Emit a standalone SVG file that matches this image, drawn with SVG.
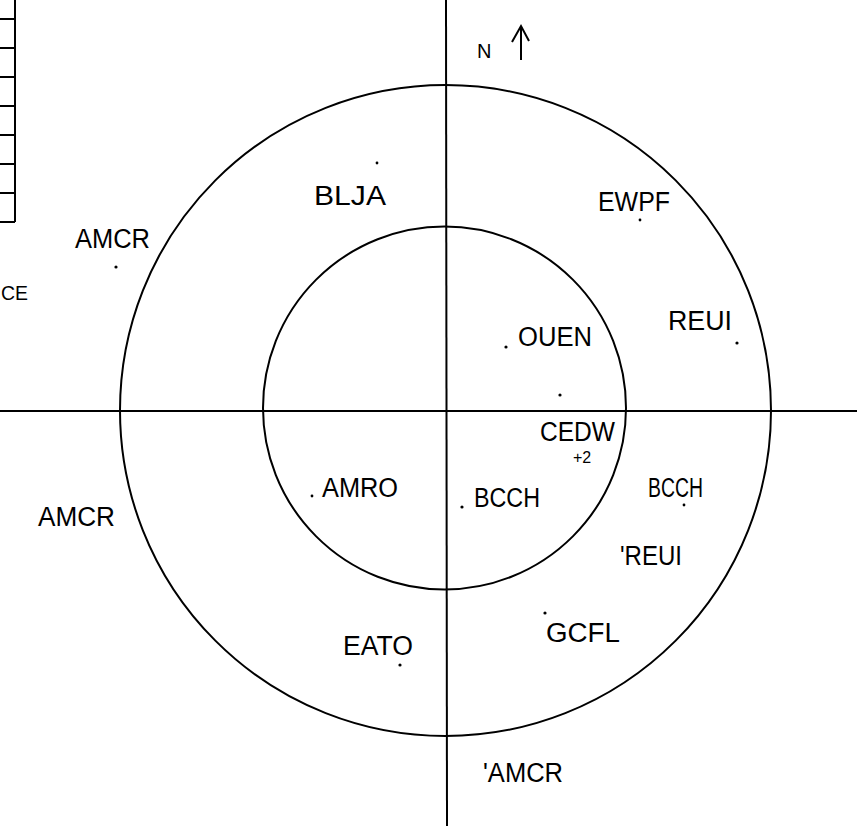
<svg xmlns="http://www.w3.org/2000/svg" width="863" height="826" viewBox="0 0 863 826">
<style>
.ln{stroke:#000;stroke-width:2;fill:none}
.t{font-family:"Liberation Sans",Arial,sans-serif;font-size:27px;fill:#000}
.dot{fill:#000}
</style>
<rect width="863" height="826" fill="#fff"/>
<g id="table">
<path class="ln" d="M15 0V222M0 19H15M0 48H15M0 77H15M0 106H15M0 135H15M0 164H15M0 193H15M0 222H15"/>
</g>
<g id="connectors">
<line class="ln" x1="446" y1="0" x2="447" y2="826"/>
<line class="ln" x1="0" y1="411" x2="857" y2="411"/>
</g>
<g id="outer-circle"><circle class="ln" cx="445.5" cy="410.5" r="325.5"/></g>
<g id="inner-circle"><circle class="ln" cx="444.5" cy="408" r="181.5"/></g>
<g id="north">
<text class="t" x="477" y="58" style="font-size:20px">N</text>
<path class="ln" d="M521 60L521 28M512 42L521 26L529 41"/>
</g>
<g id="labels">
<text class="t" x="75" y="248" textLength="75" lengthAdjust="spacingAndGlyphs">AMCR</text>
<text class="t" x="1" y="300" textLength="27" lengthAdjust="spacingAndGlyphs" style="font-size:20px">CE</text>
<text class="t" x="314" y="205" textLength="72" lengthAdjust="spacingAndGlyphs">BLJA</text>
<text class="t" x="598" y="211" textLength="72" lengthAdjust="spacingAndGlyphs">EWPF</text>
<text class="t" x="518" y="346" textLength="74" lengthAdjust="spacingAndGlyphs">OUEN</text>
<text class="t" x="668" y="330" textLength="64" lengthAdjust="spacingAndGlyphs">REUI</text>
<text class="t" x="540" y="441" textLength="75" lengthAdjust="spacingAndGlyphs">CEDW</text>
<text class="t" x="573" y="463" style="font-size:16px">+2</text>
<text class="t" x="322" y="497" textLength="76" lengthAdjust="spacingAndGlyphs">AMRO</text>
<text class="t" x="474" y="507" textLength="66" lengthAdjust="spacingAndGlyphs">BCCH</text>
<text class="t" x="648" y="497" textLength="55" lengthAdjust="spacingAndGlyphs">BCCH</text>
<text class="t" x="620" y="565" textLength="62" lengthAdjust="spacingAndGlyphs">'REUI</text>
<text class="t" x="546" y="642" textLength="74" lengthAdjust="spacingAndGlyphs">GCFL</text>
<text class="t" x="343" y="655" textLength="70" lengthAdjust="spacingAndGlyphs">EATO</text>
<text class="t" x="483" y="782" textLength="80" lengthAdjust="spacingAndGlyphs">'AMCR</text>
<text class="t" x="38" y="526" textLength="77" lengthAdjust="spacingAndGlyphs">AMCR</text>
</g>
<g id="dots">
<circle class="dot" cx="116" cy="267" r="1.6"/>
<circle class="dot" cx="377" cy="163" r="1.4"/>
<circle class="dot" cx="640" cy="220" r="1.4"/>
<circle class="dot" cx="506" cy="347" r="1.6"/>
<circle class="dot" cx="737" cy="343" r="1.6"/>
<circle class="dot" cx="560" cy="395" r="1.6"/>
<circle class="dot" cx="312" cy="496" r="1.4"/>
<circle class="dot" cx="462" cy="507" r="1.6"/>
<circle class="dot" cx="684" cy="505" r="1.4"/>
<circle class="dot" cx="545" cy="613" r="1.6"/>
<circle class="dot" cx="400" cy="665" r="1.6"/>
</g>
</svg>
